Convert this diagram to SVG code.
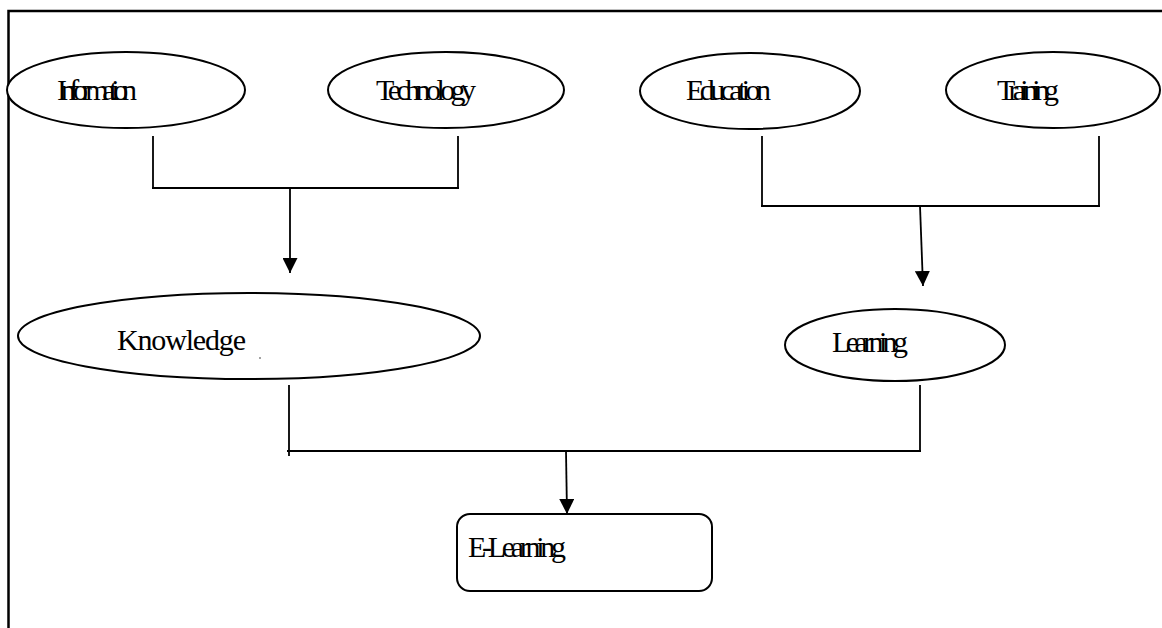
<svg xmlns="http://www.w3.org/2000/svg" width="1162" height="628" viewBox="0 0 1162 628">
<style>
.shape{fill:#fff;stroke:#000;stroke-width:2}
.lbl{font-family:"Liberation Serif","Times New Roman",serif;font-size:30px;fill:#000}
.conn line{stroke:#000;stroke-width:1.8}
.frame{stroke:#000;stroke-width:2.5;fill:none}
</style>
<defs>
<marker id="arr" viewBox="0 0 10 10" refX="10" refY="5" markerWidth="15" markerHeight="15" markerUnits="userSpaceOnUse" orient="auto">
<path d="M0,0 L10,5 L0,10 Z" fill="#000"/>
</marker>
</defs>
<rect width="1162" height="628" fill="#fff"/>
<path class="frame" d="M8.5,640 V11 H1170"/>
<g id="information">
<ellipse class="shape" cx="126" cy="90" rx="119" ry="38"/>
<text class="lbl" x="57" y="100" textLength="80" lengthAdjust="spacing">Information</text>
</g>
<g id="technology">
<ellipse class="shape" cx="446" cy="90" rx="118" ry="38"/>
<text class="lbl" x="376" y="100" textLength="100" lengthAdjust="spacing">Technology</text>
</g>
<g id="education">
<ellipse class="shape" cx="750" cy="91" rx="110" ry="38"/>
<text class="lbl" x="686" y="100" textLength="85" lengthAdjust="spacing">Education</text>
</g>
<g id="training">
<ellipse class="shape" cx="1053" cy="90" rx="107" ry="38"/>
<text class="lbl" x="997" y="100" textLength="62" lengthAdjust="spacing">Training</text>
</g>
<g id="knowledge">
<ellipse class="shape" cx="249" cy="336" rx="231" ry="43"/>
<text class="lbl" x="117" y="350" textLength="129" lengthAdjust="spacing">Knowledge</text>
<circle cx="260" cy="358" r="0.7" fill="#000"/>
</g>
<g id="learning">
<ellipse class="shape" cx="895" cy="345" rx="110" ry="36"/>
<text class="lbl" x="832" y="352" textLength="76" lengthAdjust="spacing">Learning</text>
</g>
<g id="elearning">
<rect class="shape" x="457" y="514" width="255" height="77" rx="13" ry="13"/>
<text class="lbl" x="468" y="557" textLength="98" lengthAdjust="spacing">E-Learning</text>
</g>
<g class="conn" id="connectors">
<line x1="153" y1="136" x2="153" y2="188"/>
<line x1="458" y1="136" x2="458" y2="188"/>
<line x1="152" y1="188" x2="459" y2="188"/>
<line x1="290" y1="188" x2="290" y2="273" marker-end="url(#arr)"/>
<line x1="762" y1="136" x2="762" y2="206"/>
<line x1="1099" y1="136" x2="1099" y2="206"/>
<line x1="761" y1="206" x2="1100" y2="206"/>
<line x1="920" y1="206" x2="923" y2="286" marker-end="url(#arr)"/>
<line x1="289" y1="385" x2="289" y2="456"/>
<line x1="920" y1="385" x2="920" y2="451"/>
<line x1="287" y1="451" x2="921" y2="451"/>
<line x1="566" y1="451" x2="567" y2="514" marker-end="url(#arr)"/>
</g>
</svg>
